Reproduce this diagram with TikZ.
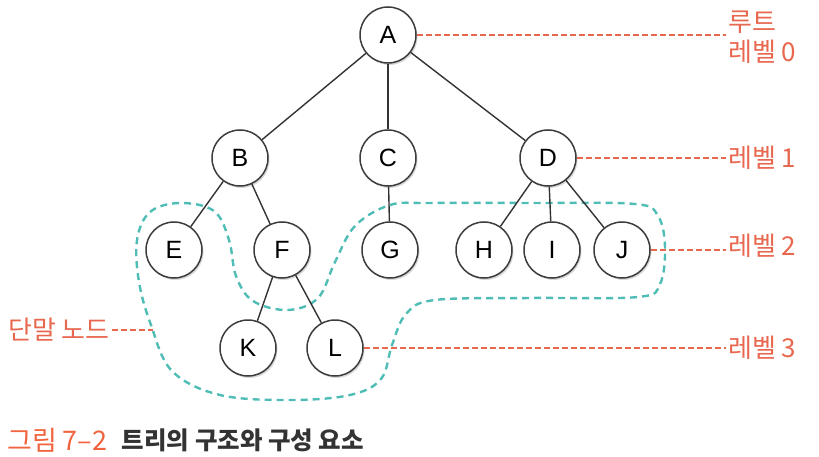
\documentclass[tikz,border=0pt]{standalone}
\usepackage{fontspec}
\setmainfont{Liberation Sans}
\newfontfamily\kr{Noto Sans CJK KR}
\usepackage{tikz}
\usetikzlibrary{positioning,shadows}
\definecolor{ink}{HTML}{333333}
\definecolor{rim}{HTML}{3C3C3C}
\definecolor{lv}{HTML}{E8674F}
\definecolor{capo}{HTML}{F0643F}
\definecolor{leafc}{HTML}{4FBDB5}
\tikzset{
  vtx/.style={circle,draw=rim,line width=1.5pt,fill=white,minimum size=56pt,inner sep=0pt,font=\fontsize{25}{28}\selectfont,drop shadow={opacity=0.3,shadow xshift=1.5pt,shadow yshift=-2pt}},
  edge/.style={draw=ink,line width=1.4pt},
  lead/.style={draw=lv,line width=1.1pt,dash pattern=on 6pt off 3pt},
  lbl/.style={font=\kr\fontsize{26}{30}\selectfont,color=lv,align=left,inner sep=2pt},
  leafline/.style={draw=leafc,line width=2.4pt,dash pattern=on 7pt off 5pt}}

\begin{document}
\begin{tikzpicture}[x=1pt,y=-1pt]
\useasboundingbox (0,0) rectangle (819,457);
% leaf node region
\draw[leafline] plot[smooth cycle,tension=0.6] coordinates {
  (137,240) (150,212) (180,203) (214,211) (229,240) (236,276) (253,301) (288,310)
  (318,298) (335,262) (355,226) (390,205) (430,203) (530,203) (635,204) (658,216)
  (665,247) (660,284) (638,297) (530,298) (435,300) (406,314) (392,345) (381,379)
  (350,395) (290,400) (220,395) (172,371) (151,325) (139,282)};
% tree
\node[vtx] (A) at (388,35) {A};
\node[vtx] (B) at (240,158) {B};
\node[vtx] (C) at (388,158) {C};
\node[vtx] (D) at (548,158) {D};
\node[vtx] (E) at (174,250) {E};
\node[vtx] (F) at (282,250) {F};
\node[vtx] (G) at (390,250) {G};
\node[vtx] (H) at (484,250) {H};
\node[vtx] (I) at (552,250) {I};
\node[vtx] (J) at (622,250) {J};
\node[vtx] (K) at (248,348) {K};
\node[vtx] (L) at (335,348) {L};
\foreach \p/\c in {A/B,A/C,A/D,B/E,B/F,C/G,D/H,D/I,D/J,F/K,F/L}
  \draw[edge] (\p) -- (\c);
% level labels
\node[lbl,anchor=west] (root) at (726,37) {루트\\레벨 0};
\node[lbl,anchor=west] (lv1) at (726,158) {레벨 1};
\node[lbl,anchor=west] (lv2) at (726,246) {레벨 2};
\node[lbl,anchor=west] (lv3) at (726,348) {레벨 3};
\draw[lead] (A) -- (A -| root.west);
\draw[lead] (D) -- (D -| lv1.west);
\draw[lead] (J) -- (J -| lv2.west);
\draw[lead] (L) -- (L -| lv3.west);
\node[lbl,anchor=east] (leaf) at (112,330) {단말 노드};
\coordinate (leafpt) at (153,330);
\draw[lead] (leaf) -- (leafpt);
% caption
\node[anchor=west,inner sep=0pt,font=\kr\fontsize{27}{30}\selectfont,color=capo] (fig) at (7,440) {그림 7–2};
\node[right=14pt of fig,inner sep=0pt,font=\kr\bfseries\fontsize{24.5}{30}\selectfont,color=ink] (title) {트리의 구조와 구성 요소};
\end{tikzpicture}
\end{document}
